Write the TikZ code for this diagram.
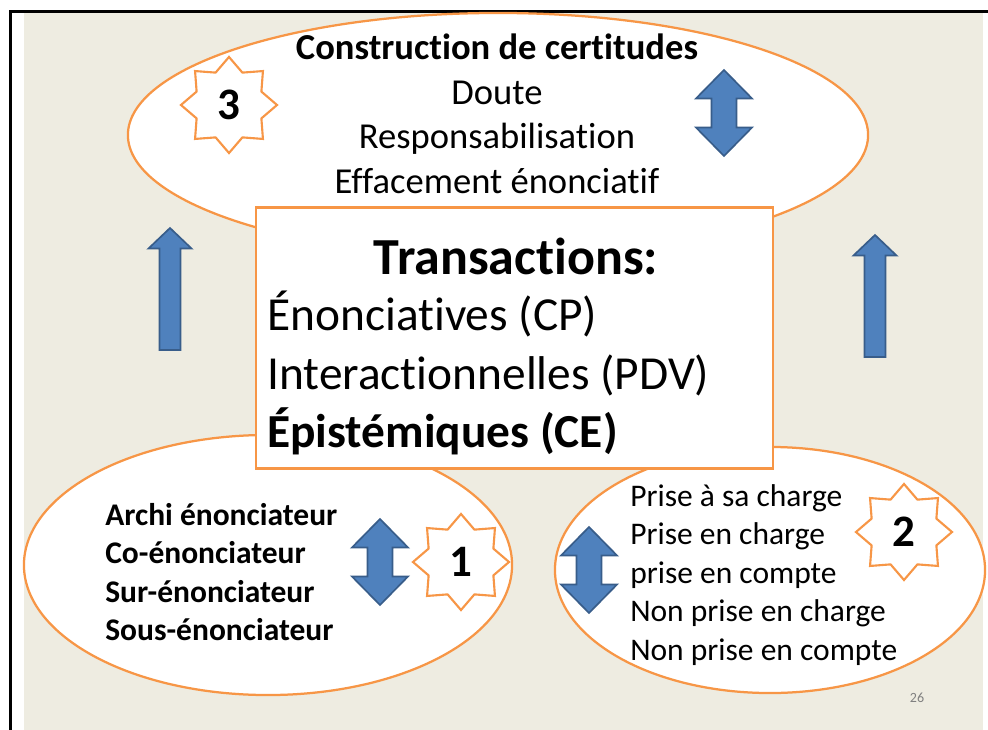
\documentclass[tikz,border=0pt]{standalone}
\usepackage{fontspec}
\setmainfont{Carlito}[Ligatures=NoCommon]
\usetikzlibrary{shapes.geometric,positioning}

\definecolor{slidetan}{HTML}{EEECE1}
\definecolor{accentorange}{HTML}{F79646}
\definecolor{accentblue}{HTML}{4F81BD}
\definecolor{accentblueline}{HTML}{385D8A}

\tikzset{
	bubble/.style={ellipse,draw=accentorange,line width=1.6pt,fill=white,inner sep=0pt},
	badge/.style={star,star points=8,star point ratio=1.37,draw=accentorange,line width=1.5pt,minimum size=2.4cm,inner sep=0pt,font=\fontsize{32}{34}\selectfont\bfseries},
	blockarrow/.style={draw=accentblueline,fill=accentblue,line width=1.2pt,line join=miter},
	pics/updown/.style={code={
		\draw[blockarrow] (0,-43) -- (28,-14.5) -- (12.5,-14.5) -- (12.5,14.5) -- (28,14.5) -- (0,43)
			-- (-28,14.5) -- (-12.5,14.5) -- (-12.5,-14.5) -- (-28,-14.5) -- cycle;}},
	pics/upward/.style={code={
		\draw[blockarrow] (0,0) -- (21.5,20.5) -- (10.5,20.5) -- (10.5,122) -- (-10.5,122) -- (-10.5,20.5) -- (-21.5,20.5) -- cycle;}}
}

\begin{document}
\begin{tikzpicture}[x=0.025cm,y=-0.025cm]
	\useasboundingbox (0,0) rectangle (988,730);
	\fill[white] (0,0) rectangle (988,730);
	\fill[slidetan] (24,12.5) rectangle (983,730);
	\draw[line width=2pt] (10.5,730) -- (10.5,11.5) -- (988,11.5);

	% the three bubbles and the box
	\node[bubble,minimum width=18.5cm,minimum height=6.1cm] (topbubble) at (498,135) {};
	\pic (leftup) at (170,228) {upward};
	\pic (rightup) at (875,235) {upward};
	\node[bubble,minimum width=12.2cm,minimum height=6.5cm] (leftbubble) at (268,565) {};
	\node[bubble,minimum width=10.75cm,minimum height=6.15cm] (rightbubble) at (770,570) {};
	\node[draw=accentorange,line width=1.6pt,fill=white,minimum width=12.925cm,minimum height=6.525cm,inner sep=0pt] (trans) at (514.5,338) {};

	\begin{scope}[every node/.style={inner sep=0pt}]
		\node[align=center,font=\fontsize{26}{31.7}\selectfont] (certitudes) at (497,114) {\textbf{Construction de certitudes}\\Doute\\Responsabilisation\\Effacement énonciatif};
		\node[font=\fontsize{37}{44}\selectfont\bfseries] (transtitle) at (516,256) {Transactions:};
		\node[anchor=west,align=left,font=\fontsize{33.7}{41.3}\selectfont] (transkinds) at (267,373) {Énonciatives (CP)\\Interactionnelles (PDV)\\\textbf{Épistémiques (CE)}};
		\node[anchor=west,align=left,font=\fontsize{22.4}{27.4}\selectfont\bfseries] (enonciateurs) at (105,572) {Archi énonciateur\\Co-énonciateur\\Sur-énonciateur\\Sous-énonciateur};
		\node[anchor=west,align=left,font=\fontsize{22.4}{27.4}\selectfont] (prises) at (630,575) {Prise à sa charge\\Prise en charge\\prise en compte\\Non prise en charge\\Non prise en compte};
		\node[font=\fontsize{10}{12}\selectfont,text=gray] (pagenum) at (917,698) {26};
	\end{scope}

	% numbered stars
	\node[badge] (star3) at (229,105) {3};
	\node[badge] (star1) at (461,562) {1};
	\node[badge] (star2) at (904,532) {2};

	% double arrows
	\pic (certarrow) at (724,113) {updown};
	\pic (enonarrow) at (380,562) {updown};
	\pic (prisearrow) at (589,570) {updown};
\end{tikzpicture}
\end{document}
